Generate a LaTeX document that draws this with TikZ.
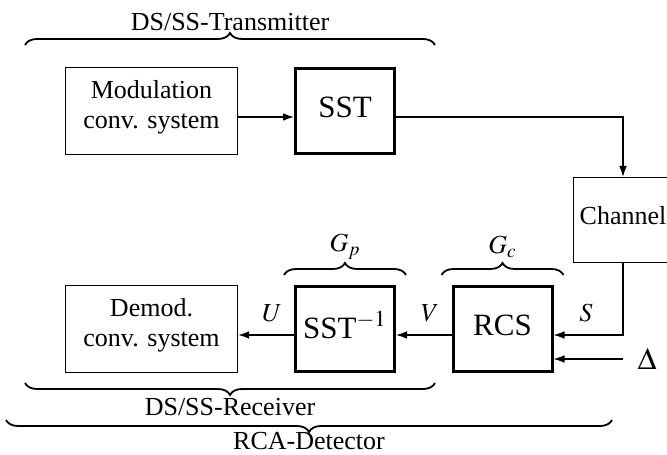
\documentclass[tikz,border=0pt]{standalone}
\usepackage{mathptmx}
\usepackage[no-math]{fontspec}
\setmainfont{Liberation Serif}
\usetikzlibrary{arrows.meta,decorations.pathreplacing}
\tikzset{>={Latex[length=5.5pt,width=3.8pt]},every node/.style={font=\fontsize{13}{15}\selectfont},
 box/.style={draw,line width=.7pt,minimum width=86pt,minimum height=43.3pt,inner sep=0pt},
 bbox/.style={box,line width=1.5pt,minimum width=49.5pt,minimum height=42.5pt},
 txt/.style={align=center,yshift=2pt},bigtxt/.style={txt,font=\fontsize{15.5}{18}\selectfont},
 sig/.style={line width=.6pt,->},brc/.style={line width=.9pt,decorate,decoration={brace,amplitude=6pt}}}

\begin{document}
\begin{tikzpicture}[x=.5pt,y=.5pt]
\useasboundingbox (0,0) rectangle (667,454);
% transmitter
\node[box] (mod) at (151.5,343) {};\node[txt] (modt) at (mod) {Modulation\\conv. system};
\node[bbox] (sst) at (345,343) {};\node[bigtxt] (sstt) at (sst) {SST};
\node[box,minimum width=49.3pt,minimum height=42.3pt] (chan) at (623,234) {};\node[txt] (chant) at (chan) {Channel};
% receiver
\node[box] (demod) at (151.5,125) {};\node[txt] (demodt) at (demod) {Demod.\\conv. system};
\node[bbox] (sinv) at (345,125) {};\node[bigtxt] (sinvt) at (sinv) {SST$^{-1}$};
\node[bbox] (rcs) at (502.5,125) {};\node[bigtxt] (rcst) at (rcs) {RCS};
\coordinate (din) at (623,95);\node[font=\fontsize{15.5}{18}\selectfont] (delta) at (647,95) {$\Delta$};
% signals
\draw[sig] ([yshift=-3pt]mod.east) -- ([yshift=-3pt]sst.west);
\draw[sig] ([yshift=-3pt]sst.east) -| (chan.north);
\draw[sig] (chan.south) |- ([yshift=-3pt]rcs.east);
\draw[sig] (din) -- (rcs.east|-din);
\draw[sig] ([yshift=-3pt]rcs.west) -- ([yshift=-3pt]sinv.east);
\draw[sig] ([yshift=-3pt]sinv.west) -- ([yshift=-3pt]demod.east);
\node (S) at (586,141) {$S$};\node (V) at (430,141) {$V$};\node (U) at (272,141) {$U$};
% braces
\draw[brc] ([shift={(-5pt,5pt)}]sinv.north west) -- ([shift={(5pt,5pt)}]sinv.north east) node[midway,yshift=14pt] (gp) {$G_p$};
\draw[brc] ([shift={(-5pt,5pt)}]rcs.north west) -- ([shift={(5pt,5pt)}]rcs.north east) node[midway,yshift=14pt] (gc) {$G_c$};
\draw[brc] (25,409) -- (435,409) node[midway,yshift=11.25pt] (tx) {DS/SS-Transmitter};
\draw[brc,decoration={mirror}] (25,71) -- (435,71) node[midway,yshift=-12.25pt] (rx) {DS/SS-Receiver};
\draw[brc,decoration={mirror}] (6,34) -- (612,34) node[midway,yshift=-10.5pt] (det) {RCA-Detector};
\end{tikzpicture}
\end{document}
